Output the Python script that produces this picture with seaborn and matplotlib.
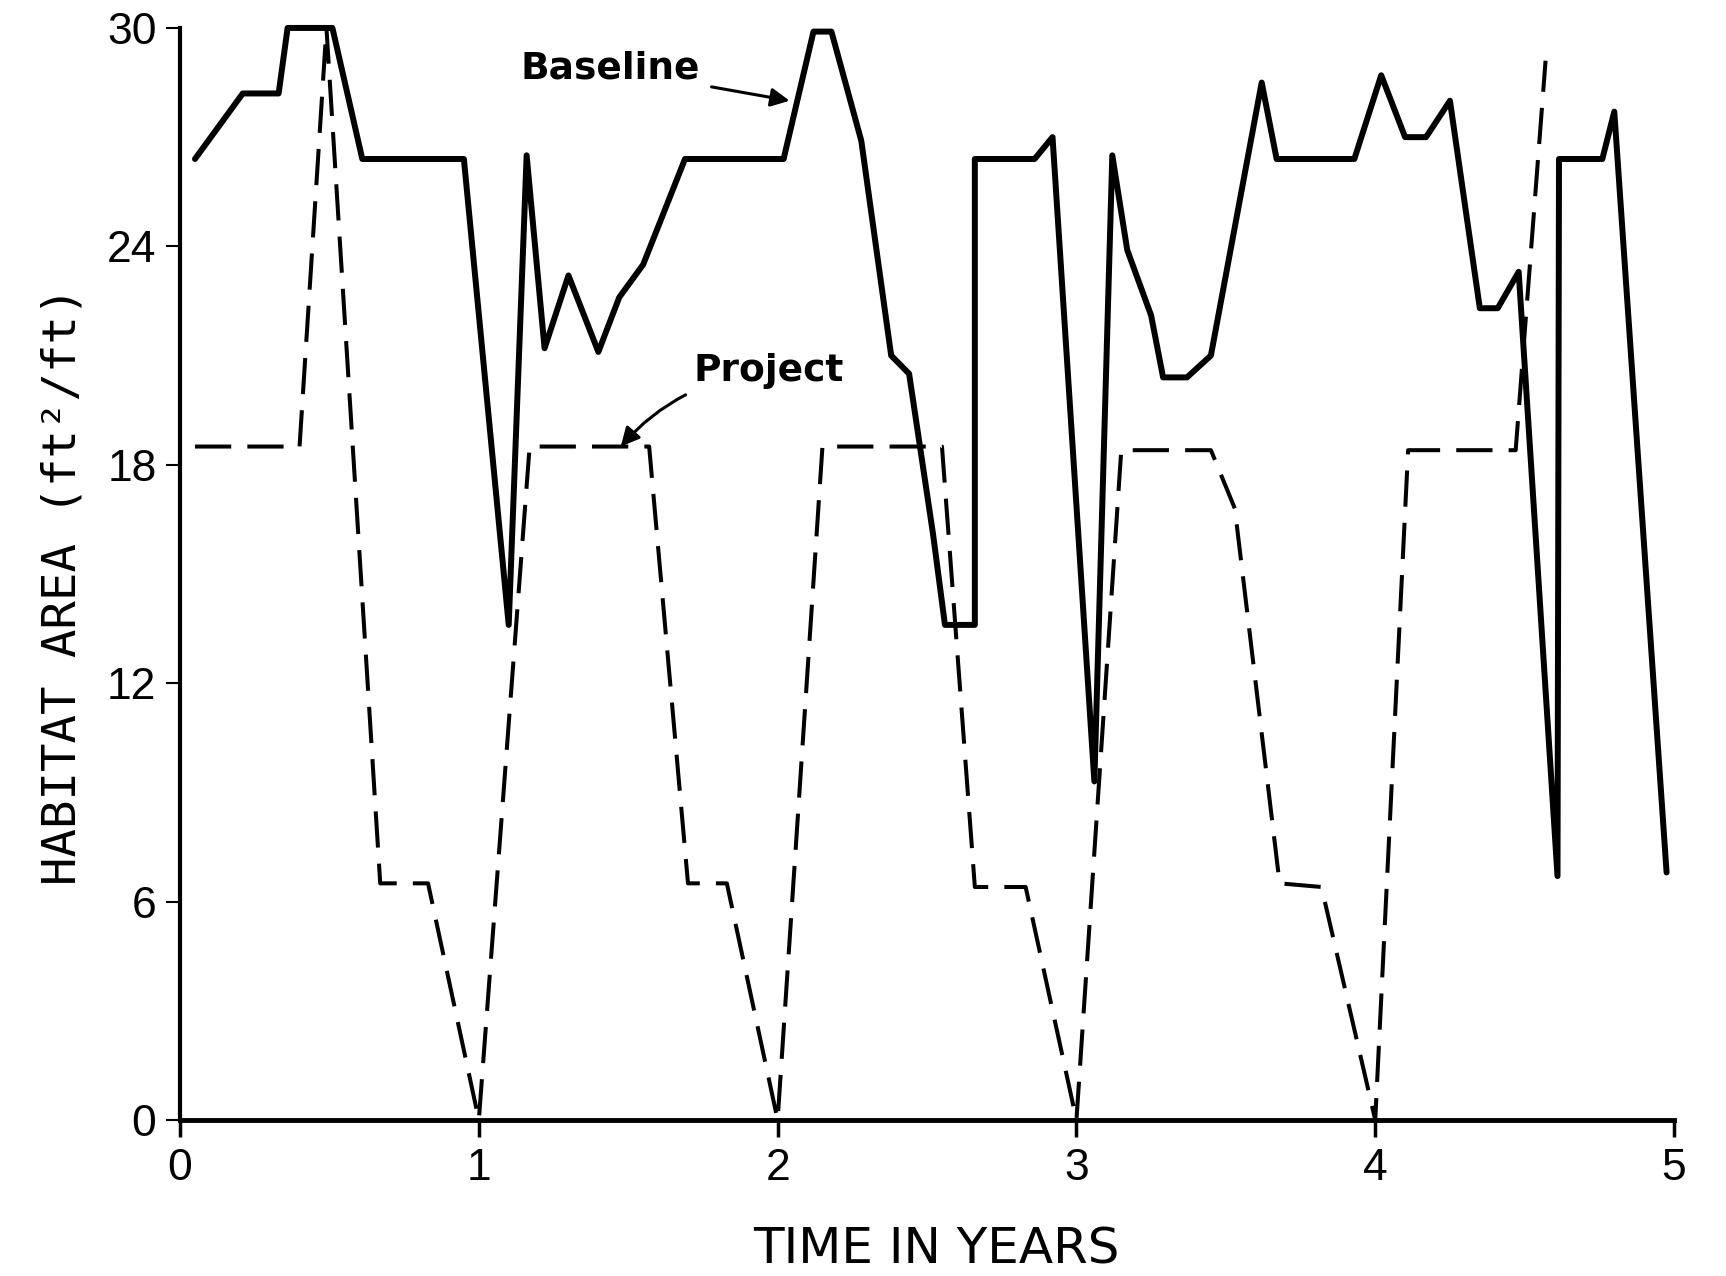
import matplotlib
matplotlib.use("Agg")
import matplotlib.pyplot as plt
import seaborn as sns

# values (years, ft2/ft)
baseline_years = [0.05, 0.21, 0.33, 0.36, 0.51, 0.61, 0.95, 1.10, 1.16, 1.22,
                  1.30, 1.40, 1.47, 1.55, 1.69, 2.02, 2.12, 2.18, 2.28, 2.38,
                  2.44, 2.52, 2.56, 2.66, 2.66, 2.86, 2.92, 3.06, 3.12, 3.17,
                  3.25, 3.29, 3.37, 3.45, 3.62, 3.67, 3.93, 4.02, 4.10, 4.17,
                  4.25, 4.35, 4.41, 4.48, 4.61, 4.615, 4.76, 4.80, 4.975]
baseline_area = [26.4, 28.2, 28.2, 30.0, 30.0, 26.4, 26.4, 13.6, 26.5, 21.2,
                 23.2, 21.1, 22.6, 23.5, 26.4, 26.4, 29.9, 29.9, 26.9, 21.0,
                 20.5, 16.1, 13.6, 13.6, 26.4, 26.4, 27.0, 9.3, 26.5, 23.9,
                 22.1, 20.4, 20.4, 21.0, 28.5, 26.4, 26.4, 28.7, 27.0, 27.0,
                 28.0, 22.3, 22.3, 23.3, 6.7, 26.4, 26.4, 27.7, 6.8]

project_years = [0.05, 0.40, 0.49, 0.67, 0.83, 1.00, 1.17, 1.57, 1.70, 1.83,
                 2.00, 2.15, 2.55, 2.66, 2.83, 3.00, 3.15, 3.45, 3.53, 3.68,
                 3.82, 4.00, 4.11, 4.47, 4.57]
project_area = [18.5, 18.5, 30.0, 6.5, 6.5, 0.0, 18.5, 18.5, 6.5, 6.5,
                0.0, 18.5, 18.5, 6.4, 6.4, 0.0, 18.4, 18.4, 16.8, 6.5,
                6.4, 0.0, 18.4, 18.4, 29.1]

x_ticks = [0, 1, 2, 3, 4, 5]
y_ticks = [0, 6, 12, 18, 24, 30]

sns.set_style("ticks")
plt.rcParams["font.family"] = ["Liberation Sans", "DejaVu Sans"]
plt.rcParams["text.color"] = "black"

fig = plt.figure(figsize=(17.26, 12.76), dpi=100)
ax = fig.add_axes([0.1043, 0.1223, 0.8656, 0.8558])

sns.lineplot(x=baseline_years, y=baseline_area, ax=ax, color="black", lw=4.3,
             sort=False, estimator=None, clip_on=False)
sns.lineplot(x=project_years, y=project_area, ax=ax, color="black", lw=2.9,
             linestyle=(0, (9, 4)), sort=False, estimator=None, clip_on=False)

ax.set_xlim(0, 5)
ax.set_ylim(0, 30)
ax.set_xticks(x_ticks)
ax.set_yticks(y_ticks)

sns.despine(ax=ax)
ax.spines["left"].set_linewidth(3)
ax.spines["bottom"].set_linewidth(3.5)
ax.spines["left"].set_color("black")
ax.spines["bottom"].set_color("black")

ax.tick_params(axis="x", direction="out", length=12, width=2.5, pad=8,
               labelsize=32, colors="black")
ax.tick_params(axis="y", direction="out", length=10, width=1.5, pad=7,
               labelsize=32, colors="black")

ax.set_xlabel("TIME IN YEARS", fontsize=36, family=["DejaVu Sans"], color="black")
ax.xaxis.set_label_coords(0.506, -0.097)
ax.set_ylabel("HABITAT AREA (ft²/ft)", fontsize=34,
              family=["DejaVu Sans Mono", "DejaVu Sans"], color="black")
ax.yaxis.set_label_coords(-0.0636, 0.489)

ax.annotate("Baseline", xy=(2.04, 28.0), xytext=(1.44, 28.6),
            fontsize=27, fontweight="bold", family=["DejaVu Sans"],
            color="black", ha="center", va="baseline", annotation_clip=False,
            arrowprops=dict(arrowstyle="-|>", color="black", lw=2.2,
                            mutation_scale=28, shrinkA=6, shrinkB=0))
ax.annotate("Project", xy=(1.475, 18.5), xytext=(1.97, 20.3),
            fontsize=27, fontweight="bold", family=["DejaVu Sans"],
            color="black", ha="center", va="baseline", annotation_clip=False,
            arrowprops=dict(arrowstyle="-|>", color="black", lw=2.2,
                            mutation_scale=28, shrinkA=4, shrinkB=0,
                            connectionstyle="arc3,rad=0.2"))

fig.savefig("out.png", dpi=100)
